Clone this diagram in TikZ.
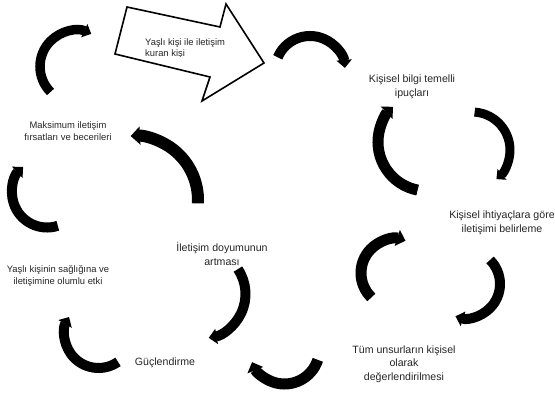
\documentclass[tikz,border=0pt]{standalone}
\usepackage{fontspec}
\setmainfont{Liberation Sans}
\usetikzlibrary{arrows.meta}

\begin{document}
\begin{tikzpicture}[x=1pt, y=-1pt,
    lbl/.style={align=center, inner sep=0pt, text=black!85, font=\fontsize{10.6}{13.5}\selectfont},
    lblsmall/.style={lbl, font=\fontsize{9.4}{11.5}\selectfont},
    cyc/.style={line width=#1, -{Triangle[length=1pt 0.7, width=1pt 1.4]}},
  ]
  \fill[white] (0,0) rectangle (555,401);
  \useasboundingbox (0,0) rectangle (555,401);

  \draw[line width=1.6pt, line join=miter] (127,7) -- (220,27) -- (226,4) -- (264,63)
    -- (202,101) -- (210,77) -- (115,54) -- cycle;
  \begin{scope}
    \clip (100,0) rectangle (270,56.5);
    \node[lblsmall, align=left, anchor=west] (giver) at (145,48.5) {Yaşlı kişi ile iletişim\\kuran kişi};
  \end{scope}

  \node[lbl] (cues)    at (412,87)  {Kişisel bilgi temelli\\ipuçları};
  \node[lbl] (needs)   at (502,223) {Kişisel ihtiyaçlara göre\\iletişimi belirleme};
  \node[lbl] (assess)  at (404,364) {Tüm unsurların kişisel\\olarak\\değerlendirilmesi};
  \node[lbl] (empower) at (165,363) {Güçlendirme};
  \node[lbl] (satisf)  at (222,254) {İletişim doyumunun\\artması};
  \node[lblsmall] (health) at (58,276) {Yaşlı kişinin sağlığına ve\\iletişimine olumlu etki};
  \node[lblsmall] (maxim)  at (68,131) {Maksimum iletişim\\fırsatları ve becerileri};

  \foreach \cx/\cy/\r/\a/\b/\w in {
      76/66.5/36/225/65/9.5pt,
      310/71/35/157/5/10pt,
      427/142/49/259/134/11pt,
      472/150/38/86/-50/9pt,
      395/273/34/226/72/11pt,
      466/284/34/45/-108/10pt,
      284.5/349/35/-18/-158/11pt,
      98.5/334/34/305/150/10pt,
      201/294/44.5/34/-80/10pt,
      47/192.5/35/288/133/10pt,
      134/200/64/-3/93/12pt}
    \draw[cyc=\w] ([shift={(\a:\r pt)}]\cx,\cy) arc[start angle=\a, end angle=\b, radius=\r pt];

\end{tikzpicture}
\end{document}
